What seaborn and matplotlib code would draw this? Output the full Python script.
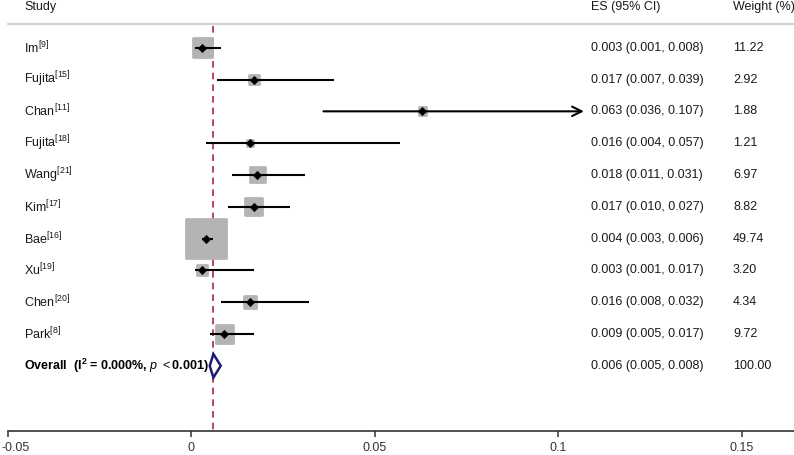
import matplotlib
matplotlib.use("Agg")
import pandas as pd
import matplotlib.pyplot as plt
import matplotlib.transforms as mtransforms
from matplotlib.patches import Polygon
import seaborn as sns

# Study data
studies = ["Im", "Fujita", "Chan", "Fujita", "Wang", "Kim", "Bae", "Xu", "Chen", "Park"]
refs = ["9", "15", "11", "18", "21", "17", "16", "19", "20", "8"]
es = [0.003, 0.017, 0.063, 0.016, 0.018, 0.017, 0.004, 0.003, 0.016, 0.009]
ci_low = [0.001, 0.007, 0.036, 0.004, 0.011, 0.010, 0.003, 0.001, 0.008, 0.005]
ci_high = [0.008, 0.039, 0.107, 0.057, 0.031, 0.027, 0.006, 0.017, 0.032, 0.017]
weights = [11.22, 2.92, 1.88, 1.21, 6.97, 8.82, 49.74, 3.20, 4.34, 9.72]

overall_es, overall_low, overall_high = 0.006, 0.005, 0.008
overall_weight = 100.00
overall_label = r"Overall  (I$^{\mathbf{2}}$ = 0.000%, $\mathit{p}$ $<$0.001)"

xticks = [-0.05, 0, 0.05, 0.1, 0.15]
xtick_labels = ["-0.05", "0", "0.05", "0.1", "0.15"]
arrow_limit = 0.1  # CIs running past this get an arrow head

df = pd.DataFrame({"study": studies, "ref": refs, "es": es, "lo": ci_low,
                   "hi": ci_high, "weight": weights})
df["row"] = range(len(df))
overall_row = len(df)

sns.set_style("white")
plt.rcParams["font.family"] = ["Liberation Sans", "DejaVu Sans"]
plt.rcParams["mathtext.fontset"] = "custom"
plt.rcParams["mathtext.rm"] = "Liberation Sans"
plt.rcParams["mathtext.it"] = "Liberation Sans:italic"
plt.rcParams["mathtext.bf"] = "Liberation Sans:bold"

fig = plt.figure(figsize=(7.94, 4.55), dpi=100)
ax = fig.add_axes([8 / 794, 24 / 455, 786 / 794, 431 / 455])

# weight boxes (area proportional to weight)
k = 16.5
sns.scatterplot(data=df, x="es", y="row", size="weight",
                sizes=(k * df["weight"].min(), k * df["weight"].max()),
                marker="s", color="#b4b4b4", edgecolor="#b4b4b4", linewidth=2.0,
                legend=False, ax=ax, zorder=2)

# confidence intervals
normal = df[df["hi"] <= arrow_limit]
ax.hlines(normal["row"], normal["lo"], normal["hi"], color="black", lw=1.5, zorder=3)
for _, r in df[df["hi"] > arrow_limit].iterrows():
    ax.annotate("", xy=(r["hi"], r["row"]), xytext=(r["lo"], r["row"]),
                arrowprops=dict(arrowstyle="->", color="black", lw=1.5,
                                mutation_scale=17, shrinkA=0, shrinkB=0), zorder=3)

# point estimates
sns.scatterplot(data=df, x="es", y="row", marker="D", s=22, color="black",
                linewidth=0, legend=False, ax=ax, zorder=4)

# overall diamond
ax.add_patch(Polygon([(overall_low, overall_row), (overall_es, overall_row - 0.37),
                      (overall_high, overall_row), (overall_es, overall_row + 0.37)],
                     closed=True, facecolor="white", edgecolor="#1c1c78", lw=1.8, zorder=5))

# overall effect reference line
ax.vlines(overall_es, -0.68, 12.05, color="#a82a3f", lw=1.2,
          linestyles=(0, (4, 3)), zorder=1)

# table text
tr = mtransforms.blended_transform_factory(ax.transAxes, ax.transData)
col_study, col_es, col_w = 0.0204, 0.7417, 0.9224
header_row = -1.28
txt = "#1a1a1a"
ax.text(col_study, header_row, "Study", transform=tr, va="center", fontsize=9, color=txt)
ax.text(col_es, header_row, "ES (95% CI)", transform=tr, va="center", fontsize=9, color=txt)
ax.text(col_w, header_row, "Weight (%)", transform=tr, va="center", fontsize=9, color=txt)
ax.plot([0, 1], [-0.745, -0.745], transform=tr, color="#d2d2d2", lw=1.6, clip_on=False)

for _, r in df.iterrows():
    ax.text(col_study, r["row"], r["study"] + r"$^{\mathrm{[" + r["ref"] + "]}}$",
            transform=tr, va="center", fontsize=9, color=txt)
    ax.text(col_es, r["row"], f"{r['es']:.3f} ({r['lo']:.3f}, {r['hi']:.3f})",
            transform=tr, va="center", fontsize=9, color=txt)
    ax.text(col_w, r["row"], f"{r['weight']:.2f}", transform=tr, va="center",
            fontsize=9, color=txt)

ax.text(col_study, overall_row, overall_label, transform=tr, va="center",
        fontsize=9, fontweight="bold", color="black")
ax.text(col_es, overall_row, f"{overall_es:.3f} ({overall_low:.3f}, {overall_high:.3f})",
        transform=tr, va="center", fontsize=9, color=txt)
ax.text(col_w, overall_row, f"{overall_weight:.2f}", transform=tr, va="center",
        fontsize=9, color=txt)

# axes
ax.set_xlim(-0.05, 0.1643)
ax.set_ylim(12.05, -1.5)
ax.set_xticks(xticks, xtick_labels)
ax.set_yticks([])
ax.set_xlabel("")
ax.set_ylabel("")
ax.tick_params(axis="x", bottom=True, direction="out", length=4.5, width=1.1,
               colors="#333333", labelsize=9, pad=3.2)
first = ax.get_xticklabels()[0]
first.set_ha("left")
first.set_transform(first.get_transform() +
                    mtransforms.ScaledTranslation(-6 / 100, 0, fig.dpi_scale_trans))
for side in ["top", "right", "left"]:
    ax.spines[side].set_visible(False)
ax.spines["bottom"].set_color("#333333")
ax.spines["bottom"].set_linewidth(1.2)

fig.savefig("out.png", dpi=100)
